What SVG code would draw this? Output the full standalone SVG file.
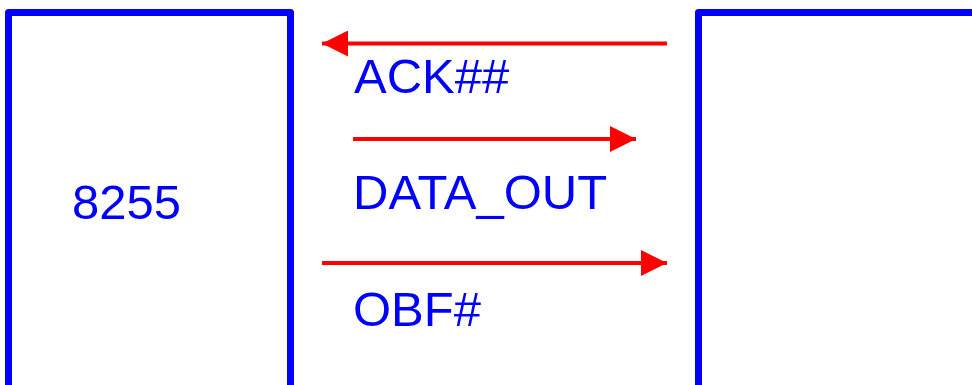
<svg xmlns="http://www.w3.org/2000/svg" width="972" height="385" viewBox="0 0 972 385">
<style>
.box{fill:none;stroke:#0000ff;stroke-width:7;stroke-linejoin:round}
.lbl{font-family:"Liberation Sans",Arial,sans-serif;font-size:49px;fill:#0000ff}
.wire{stroke:#ff0000;stroke-width:4;fill:none}
</style>
<defs>
<marker id="ah" markerWidth="26" markerHeight="26" refX="26" refY="13" orient="auto" markerUnits="userSpaceOnUse">
<path d="M0,0 L26,13 L0,26 Z" fill="#ff0000"/>
</marker>
</defs>
<rect width="972" height="385" fill="#ffffff"/>
<g id="node-8255">
<path class="box" d="M8.5,400 L8.5,12.5 L290.5,12.5 L290.5,400"/>
<text class="lbl" x="72" y="219">8255</text>
</g>
<g id="node-device">
<path class="box" d="M698.5,400 L698.5,12.5 L990,12.5"/>
</g>
<g id="connectors">
<line class="wire" x1="667" y1="43.5" x2="322" y2="43.5" marker-end="url(#ah)"/>
<line class="wire" x1="353" y1="139" x2="636" y2="139" marker-end="url(#ah)"/>
<line class="wire" x1="322" y1="263" x2="667" y2="263" marker-end="url(#ah)"/>
</g>
<g id="labels">
<text class="lbl" x="354" y="93">ACK##</text>
<text class="lbl" x="353" y="209">DATA_OUT</text>
<text class="lbl" x="353" y="326">OBF#</text>
</g>
</svg>
